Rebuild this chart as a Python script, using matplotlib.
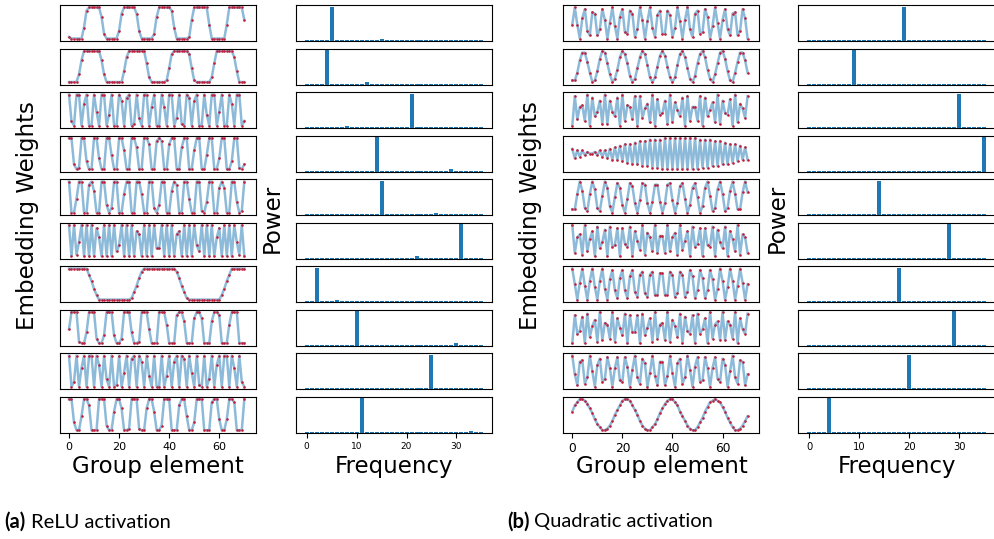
import numpy as np
import matplotlib.pyplot as plt

# group elements 0..70 and the 36 frequencies of the power spectrum
group = np.arange(71)
freqs = np.arange(36)

# embedding weights (a), top to bottom
relu_1 = [-0.9, -1.0, -1.0, -1.0, -1.0, -1.0, -0.3, 0.8, 1.0, 1.0, 1.0, 1.0, 1.0, 0.4, -0.7, -1.0, -1.0, -1.0,
          -1.0, -1.0, -0.5, 0.6, 1.0, 1.0, 1.0, 1.0, 1.0, 0.6, -0.5, -1.0, -1.0, -1.0, -1.0, -1.0, -0.7, 0.4,
          1.0, 1.0, 1.0, 1.0, 1.0, 0.8, -0.3, -1.0, -1.0, -1.0, -1.0, -1.0, -0.9, 0.2, 1.0, 1.0, 1.0, 1.0,
          1.0, 1.0, -0.1, -1.0, -1.0, -1.0, -1.0, -1.0, -1.0, -0.1, 1.0, 1.0, 1.0, 1.0, 1.0, 1.0, 0.2]
relu_2 = [-1.0, -1.0, -1.0, -1.0, -0.5, 0.4, 1.0, 1.0, 1.0, 1.0, 1.0, 1.0, 1.0, 0.4, -0.5, -1.0, -1.0, -1.0,
          -1.0, -1.0, -1.0, -1.0, -0.3, 0.6, 1.0, 1.0, 1.0, 1.0, 1.0, 1.0, 1.0, 0.2, -0.7, -1.0, -1.0, -1.0,
          -1.0, -1.0, -1.0, -0.9, -0.1, 0.8, 1.0, 1.0, 1.0, 1.0, 1.0, 1.0, 0.8, -0.1, -0.9, -1.0, -1.0, -1.0,
          -1.0, -1.0, -1.0, -0.7, 0.2, 1.0, 1.0, 1.0, 1.0, 1.0, 1.0, 1.0, 0.6, -0.3, -1.0, -1.0, -1.0]
relu_3 = [1.0, -0.7, -1.0, 1.0, 1.0, -1.0, 0.4, 1.0, -1.0, -1.0, 1.0, -0.1, -1.0, 1.0, 1.0, -1.0, -0.3, 1.0,
          -1.0, -1.0, 1.0, 0.6, -1.0, 0.8, 1.0, -1.0, -0.9, 1.0, -0.5, -1.0, 1.0, 1.0, -1.0, 0.2, 1.0, -1.0,
          -1.0, 1.0, 0.2, -1.0, 1.0, 1.0, -1.0, -0.5, 1.0, -0.9, -1.0, 1.0, 0.8, -1.0, 0.6, 1.0, -1.0, -1.0,
          1.0, -0.3, -1.0, 1.0, 1.0, -1.0, -0.1, 1.0, -1.0, -1.0, 1.0, 0.4, -1.0, 1.0, 1.0, -1.0, -0.7]
relu_4 = [1.0, 1.0, -0.7, -1.0, -0.9, 1.0, 1.0, -0.5, -1.0, -1.0, 1.0, 1.0, -0.3, -1.0, -1.0, 1.0, 1.0, -0.1,
          -1.0, -1.0, 1.0, 1.0, 0.2, -1.0, -1.0, 1.0, 1.0, 0.4, -1.0, -1.0, 1.0, 1.0, 0.6, -1.0, -1.0, 0.8,
          1.0, 0.8, -1.0, -1.0, 0.6, 1.0, 1.0, -1.0, -1.0, 0.4, 1.0, 1.0, -1.0, -1.0, 0.2, 1.0, 1.0, -1.0,
          -1.0, -0.1, 1.0, 1.0, -1.0, -1.0, -0.3, 1.0, 1.0, -1.0, -1.0, -0.5, 1.0, 1.0, -0.9, -1.0, -0.7]
relu_5 = [1.0, -1.0, -1.0, -0.1, 1.0, 1.0, -1.0, -1.0, 0.8, 1.0, 0.4, -1.0, -1.0, 1.0, 1.0, -0.5, -1.0, -0.7,
          1.0, 1.0, -1.0, -1.0, 0.2, 1.0, 1.0, -1.0, -1.0, 1.0, 1.0, 0.2, -1.0, -1.0, 1.0, 1.0, -0.7, -1.0,
          -0.5, 1.0, 1.0, -1.0, -1.0, 0.4, 1.0, 0.8, -1.0, -1.0, 1.0, 1.0, -0.1, -1.0, -1.0, 1.0, 1.0, -0.9,
          -1.0, -0.3, 1.0, 1.0, -1.0, -1.0, 0.6, 1.0, 0.6, -1.0, -1.0, 1.0, 1.0, -0.3, -1.0, -0.9, 1.0]
relu_6 = [1.0, -1.0, 1.0, -0.9, -0.1, 1.0, -1.0, 1.0, -1.0, 1.0, -1.0, 0.8, 0.2, -1.0, 1.0, -1.0, 1.0, -1.0,
          1.0, -0.7, -0.3, 1.0, -1.0, 1.0, -1.0, 1.0, -1.0, 0.6, 0.4, -1.0, 1.0, -1.0, 1.0, -1.0, 1.0, -0.5,
          -0.5, 1.0, -1.0, 1.0, -1.0, 1.0, -1.0, 0.4, 0.6, -1.0, 1.0, -1.0, 1.0, -1.0, 1.0, -0.3, -0.7, 1.0,
          -1.0, 1.0, -1.0, 1.0, -1.0, 0.2, 0.8, -1.0, 1.0, -1.0, 1.0, -1.0, 1.0, -0.1, -0.9, 1.0, -1.0]
relu_7 = [1.0, 1.0, 1.0, 1.0, 1.0, 1.0, 1.0, 1.0, 0.6, 0.2, -0.3, -0.7, -1.0, -1.0, -1.0, -1.0, -1.0, -1.0,
          -1.0, -1.0, -1.0, -1.0, -1.0, -1.0, -1.0, -0.9, -0.5, -0.1, 0.4, 0.8, 1.0, 1.0, 1.0, 1.0, 1.0, 1.0,
          1.0, 1.0, 1.0, 1.0, 1.0, 1.0, 1.0, 0.8, 0.4, -0.1, -0.5, -0.9, -1.0, -1.0, -1.0, -1.0, -1.0, -1.0,
          -1.0, -1.0, -1.0, -1.0, -1.0, -1.0, -1.0, -0.7, -0.3, 0.2, 0.6, 1.0, 1.0, 1.0, 1.0, 1.0, 1.0]
relu_8 = [-0.1, 1.0, 1.0, 1.0, -0.9, -1.0, -1.0, -0.3, 1.0, 1.0, 1.0, -0.7, -1.0, -1.0, -0.5, 1.0, 1.0, 1.0,
          -0.5, -1.0, -1.0, -0.7, 1.0, 1.0, 1.0, -0.3, -1.0, -1.0, -0.9, 1.0, 1.0, 1.0, -0.1, -1.0, -1.0, -1.0,
          1.0, 1.0, 1.0, 0.2, -1.0, -1.0, -1.0, 0.8, 1.0, 1.0, 0.4, -1.0, -1.0, -1.0, 0.6, 1.0, 1.0, 0.6,
          -1.0, -1.0, -1.0, 0.4, 1.0, 1.0, 0.8, -1.0, -1.0, -1.0, 0.2, 1.0, 1.0, 1.0, -1.0, -1.0, -1.0]
relu_9 = [1.0, -1.0, -0.7, 1.0, -1.0, 0.2, 1.0, -1.0, 1.0, 1.0, -1.0, 1.0, 0.4, -1.0, 1.0, -0.5, -1.0, 1.0,
          -1.0, -0.9, 1.0, -1.0, -0.1, 1.0, -1.0, 0.8, 1.0, -1.0, 1.0, 0.6, -1.0, 1.0, -0.3, -1.0, 1.0, -1.0,
          -1.0, 1.0, -1.0, -0.3, 1.0, -1.0, 0.6, 1.0, -1.0, 1.0, 0.8, -1.0, 1.0, -0.1, -1.0, 1.0, -0.9, -1.0,
          1.0, -1.0, -0.5, 1.0, -1.0, 0.4, 1.0, -1.0, 1.0, 1.0, -1.0, 1.0, 0.2, -1.0, 1.0, -0.7, -1.0]
relu_10 = [1.0, 1.0, -0.5, -1.0, -1.0, -0.1, 1.0, 1.0, 0.6, -1.0, -1.0, -1.0, 1.0, 1.0, 1.0, -0.7, -1.0, -1.0,
           0.2, 1.0, 1.0, 0.4, -1.0, -1.0, -0.9, 1.0, 1.0, 1.0, -0.9, -1.0, -1.0, 0.4, 1.0, 1.0, 0.2, -1.0,
           -1.0, -0.7, 1.0, 1.0, 1.0, -1.0, -1.0, -1.0, 0.6, 1.0, 1.0, -0.1, -1.0, -1.0, -0.5, 1.0, 1.0, 1.0,
           -1.0, -1.0, -1.0, 0.8, 1.0, 1.0, -0.3, -1.0, -1.0, -0.3, 1.0, 1.0, 0.8, -1.0, -1.0, -1.0, 1.0]

# embedding weights (b), top to bottom
quad_1 = [-0.1, 1.0, -0.1, -1.0, 0.3, 0.9, -0.5, -0.8, 0.7, 0.6, -0.8, -0.4, 0.9, 0.2, -1.0, 0.0, 1.0, -0.2,
          -1.0, 0.4, 0.9, -0.6, -0.7, 0.8, 0.6, -0.9, -0.4, 1.0, 0.2, -1.0, 0.1, 1.0, -0.3, -0.9, 0.5, 0.8,
          -0.7, -0.7, 0.8, 0.5, -0.9, -0.3, 1.0, 0.1, -1.0, 0.2, 1.0, -0.4, -0.9, 0.6, 0.8, -0.7, -0.6, 0.9,
          0.4, -1.0, -0.2, 1.0, 0.0, -1.0, 0.2, 0.9, -0.4, -0.8, 0.6, 0.7, -0.8, -0.5, 0.9, 0.3, -1.0]
quad_2 = [-0.9, -0.9, -0.4, 0.4, 0.9, 0.9, 0.3, -0.4, -1.0, -0.9, -0.3, 0.5, 1.0, 0.9, 0.2, -0.5, -1.0, -0.8,
          -0.2, 0.6, 1.0, 0.8, 0.2, -0.6, -1.0, -0.8, -0.1, 0.6, 1.0, 0.8, 0.1, -0.7, -1.0, -0.7, 0.0, 0.7,
          1.0, 0.7, 0.0, -0.7, -1.0, -0.7, 0.1, 0.8, 1.0, 0.6, -0.1, -0.8, -1.0, -0.6, 0.2, 0.8, 1.0, 0.6,
          -0.2, -0.8, -1.0, -0.5, 0.2, 0.9, 1.0, 0.5, -0.3, -0.9, -1.0, -0.4, 0.3, 0.9, 0.9, 0.4, -0.4]
quad_3 = [-1.0, 0.9, -0.6, 0.2, 0.3, -0.7, 1.0, -1.0, 0.8, -0.4, -0.1, 0.6, -0.9, 1.0, -0.9, 0.6, -0.1, -0.4,
          0.8, -1.0, 1.0, -0.7, 0.3, 0.2, -0.6, 0.9, -1.0, 0.9, -0.5, 0.1, 0.4, -0.8, 1.0, -1.0, 0.7, -0.3,
          -0.2, 0.6, -0.9, 1.0, -0.8, 0.5, 0.0, -0.4, 0.8, -1.0, 0.9, -0.7, 0.2, 0.2, -0.7, 0.9, -1.0, 0.8,
          -0.4, 0.0, 0.5, -0.8, 1.0, -0.9, 0.6, -0.2, -0.3, 0.7, -1.0, 1.0, -0.8, 0.4, 0.1, -0.5, 0.9]
quad_4 = [0.3, -0.3, 0.2, -0.2, 0.2, -0.1, 0.1, 0.0, 0.0, 0.1, -0.1, 0.2, -0.2, 0.2, -0.3, 0.3, -0.4, 0.4,
          -0.4, 0.5, -0.5, 0.6, -0.6, 0.6, -0.7, 0.7, -0.7, 0.8, -0.8, 0.8, -0.8, 0.9, -0.9, 0.9, -0.9, 0.9,
          -1.0, 1.0, -1.0, 1.0, -1.0, 1.0, -1.0, 1.0, -1.0, 1.0, -1.0, 1.0, -1.0, 1.0, -1.0, 0.9, -0.9, 0.9,
          -0.9, 0.9, -0.8, 0.8, -0.8, 0.8, -0.7, 0.7, -0.7, 0.6, -0.6, 0.6, -0.5, 0.5, -0.4, 0.4, -0.4]
quad_5 = [-0.8, -0.8, 0.2, 1.0, 0.4, -0.7, -0.9, 0.2, 1.0, 0.5, -0.7, -0.9, 0.1, 1.0, 0.6, -0.6, -1.0, 0.0,
          0.9, 0.6, -0.5, -1.0, -0.1, 0.9, 0.7, -0.4, -1.0, -0.2, 0.9, 0.8, -0.4, -1.0, -0.3, 0.8, 0.8, -0.3,
          -1.0, -0.4, 0.8, 0.9, -0.2, -1.0, -0.4, 0.7, 0.9, -0.1, -1.0, -0.5, 0.6, 0.9, 0.0, -1.0, -0.6, 0.6,
          1.0, 0.1, -0.9, -0.7, 0.5, 1.0, 0.2, -0.9, -0.7, 0.4, 1.0, 0.2, -0.8, -0.8, 0.3, 1.0, 0.3]
quad_6 = [1.0, -0.8, 0.2, 0.4, -0.9, 1.0, -0.7, 0.1, 0.6, -1.0, 0.9, -0.5, -0.1, 0.7, -1.0, 0.9, -0.4, -0.3,
          0.8, -1.0, 0.8, -0.2, -0.4, 0.9, -1.0, 0.6, 0.0, -0.6, 1.0, -0.9, 0.5, 0.2, -0.7, 1.0, -0.8, 0.3,
          0.3, -0.8, 1.0, -0.7, 0.2, 0.5, -0.9, 1.0, -0.6, 0.0, 0.6, -1.0, 0.9, -0.4, -0.2, 0.8, -1.0, 0.8,
          -0.3, -0.4, 0.9, -1.0, 0.7, -0.1, -0.5, 0.9, -1.0, 0.6, 0.1, -0.7, 1.0, -0.9, 0.4, 0.2, -0.8]
quad_7 = [1.0, 0.0, -1.0, 0.1, 1.0, -0.1, -1.0, 0.2, 1.0, -0.2, -1.0, 0.2, 1.0, -0.3, -1.0, 0.3, 0.9, -0.4,
          -0.9, 0.4, 0.9, -0.4, -0.9, 0.5, 0.9, -0.5, -0.8, 0.6, 0.8, -0.6, -0.8, 0.6, 0.8, -0.7, -0.7, 0.7,
          0.7, -0.7, -0.7, 0.8, 0.6, -0.8, -0.6, 0.8, 0.6, -0.8, -0.5, 0.9, 0.5, -0.9, -0.4, 0.9, 0.4, -0.9,
          -0.4, 0.9, 0.3, -1.0, -0.3, 1.0, 0.2, -1.0, -0.2, 1.0, 0.2, -1.0, -0.1, 1.0, 0.1, -1.0, 0.0]
quad_8 = [-1.0, 0.8, -0.4, -0.2, 0.7, -1.0, 0.9, -0.6, 0.1, 0.5, -0.9, 1.0, -0.8, 0.3, 0.2, -0.7, 1.0, -0.9,
          0.6, 0.0, -0.5, 0.9, -1.0, 0.8, -0.3, -0.3, 0.8, -1.0, 0.9, -0.5, 0.0, 0.6, -0.9, 1.0, -0.7, 0.2,
          0.3, -0.8, 1.0, -0.9, 0.5, 0.1, -0.6, 0.9, -1.0, 0.7, -0.2, -0.4, 0.8, -1.0, 0.9, -0.4, -0.1, 0.6,
          -1.0, 1.0, -0.7, 0.2, 0.4, -0.8, 1.0, -0.8, 0.4, 0.2, -0.7, 1.0, -1.0, 0.6, -0.1, -0.4, 0.9]
quad_9 = [1.0, -0.2, -0.9, 0.6, 0.7, -0.8, -0.4, 1.0, 0.0, -1.0, 0.4, 0.8, -0.7, -0.5, 0.9, 0.2, -1.0, 0.2,
          0.9, -0.6, -0.7, 0.9, 0.3, -1.0, 0.1, 1.0, -0.4, -0.8, 0.8, 0.5, -1.0, -0.1, 1.0, -0.3, -0.9, 0.6,
          0.6, -0.9, -0.3, 1.0, -0.1, -1.0, 0.5, 0.8, -0.8, -0.4, 1.0, 0.1, -1.0, 0.3, 0.9, -0.7, -0.6, 0.9,
          0.2, -1.0, 0.2, 0.9, -0.5, -0.7, 0.8, 0.4, -1.0, 0.0, 1.0, -0.4, -0.8, 0.7, 0.6, -0.9, -0.2]
quad_10 = [0.2, 0.6, 0.8, 1.0, 1.0, 0.9, 0.7, 0.4, 0.1, -0.3, -0.6, -0.8, -1.0, -1.0, -0.9, -0.7, -0.4, 0.0,
           0.3, 0.6, 0.9, 1.0, 1.0, 0.9, 0.6, 0.3, 0.0, -0.4, -0.7, -0.9, -1.0, -1.0, -0.8, -0.6, -0.3, 0.1,
           0.4, 0.7, 0.9, 1.0, 1.0, 0.8, 0.6, 0.2, -0.1, -0.4, -0.7, -0.9, -1.0, -1.0, -0.8, -0.5, -0.2, 0.2,
           0.5, 0.8, 0.9, 1.0, 0.9, 0.8, 0.5, 0.2, -0.2, -0.5, -0.8, -1.0, -1.0, -0.9, -0.7, -0.4, -0.1]

relu_rows = [relu_1, relu_2, relu_3, relu_4, relu_5, relu_6, relu_7, relu_8, relu_9, relu_10]
quad_rows = [quad_1, quad_2, quad_3, quad_4, quad_5, quad_6, quad_7, quad_8, quad_9, quad_10]

# power spectra, normalised so the main peak is 1
relu_peak = [5, 4, 21, 14, 15, 31, 2, 10, 25, 11]
relu_side = [15, 12, 8, 29, 26, 22, 6, 30, 4, 33]
relu_side_pow = [0.06, 0.08, 0.055, 0.075, 0.07, 0.085, 0.065, 0.09, 0.04, 0.06]
relu_third = {7: (21, 0.02)}
quad_peak = [19, 9, 30, 35, 14, 28, 18, 29, 20, 4]
floor_pow = 0.02


def spectrum(peak, side=None, side_pow=0.0, third=None):
    p = np.full(len(freqs), floor_pow)
    p[peak] = 1.0
    if side is not None:
        p[side] = side_pow
    if third is not None:
        p[third[0]] = third[1]
    return p


W, H = 994, 539
fig = plt.figure(figsize=(W / 100, H / 100), dpi=100)

LINE_C = "#1f77b4"
DOT_C = "#c0203c"


def panel(left, width, i):
    top = 5 + 43.52 * i
    return fig.add_axes([left / W, 1 - (top + 36) / H, width / W, 36 / H])


def draw_weights(left, rows, tick_fs):
    for i, vals in enumerate(rows):
        ax = panel(left, 195.6, i)
        ax.plot(group, vals, color=LINE_C, alpha=0.5, lw=1.8)
        ax.scatter(group, vals, s=3.5, color=DOT_C, linewidths=0, zorder=3)
        ax.set_xlim(-3.55, 74.55)
        ax.set_ylim(-1.16, 1.16)
        ax.set_yticks([])
        if i < 9:
            ax.set_xticks([])
        else:
            ax.set_xticks([0, 20, 40, 60])
            ax.tick_params(labelsize=tick_fs)


def draw_spectra(left, spectra, tick_fs):
    for i, p in enumerate(spectra):
        ax = panel(left, 196.5, i)
        ax.bar(freqs, p, width=0.8, color=LINE_C)
        ax.set_yticks([])
        if i < 9:
            ax.set_xticks([])
        else:
            ax.set_xticks([0, 10, 20, 30])
            ax.tick_params(labelsize=tick_fs)


relu_spec = [spectrum(relu_peak[i], relu_side[i], relu_side_pow[i], relu_third.get(i))
             for i in range(10)]
quad_spec = [spectrum(q) for q in quad_peak]

draw_weights(60.1, relu_rows, 8)
draw_spectra(295.8, relu_spec, 6.5)
draw_weights(563.4, quad_rows, 8.8)
draw_spectra(798.4, quad_spec, 7.2)

lab = dict(fontsize=16.5, ha="center", va="center")
fig.text(28 / W, 0.6, "Embedding Weights", rotation=90, **lab)
fig.text(272 / W, 0.594, "Power", rotation=90, **lab)
fig.text(531 / W, 0.6, "Embedding Weights", rotation=90, **lab)
fig.text(777 / W, 0.594, "Power", rotation=90, **lab)
fig.text(158 / W, 1 - 467 / H, "Group element", **lab)
fig.text(394 / W, 1 - 467 / H, "Frequency", **lab)
fig.text(661.6 / W, 1 - 467 / H, "Group element", **lab)
fig.text(896.5 / W, 1 - 467 / H, "Frequency", **lab)

# sub-figure captions
cap_y = 1 - 522 / H
fig.text(4 / W, cap_y, "(a)", family="Lato", fontweight="bold", fontsize=14.5, va="center")
fig.text(31 / W, cap_y, "ReLU activation", family="Lato", fontsize=14.5, va="center")
fig.text(507 / W, cap_y, "(b)", family="Lato", fontweight="bold", fontsize=14.5, va="center")
fig.text(534 / W, cap_y, "Quadratic activation", family="Lato", fontsize=14.5, va="center")

fig.savefig("out.png", dpi=100)
